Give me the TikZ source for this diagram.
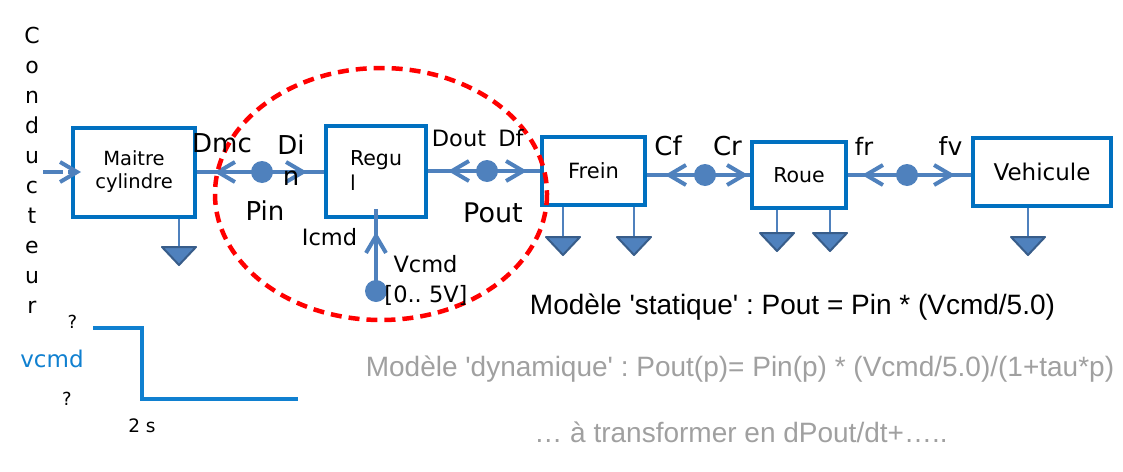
\documentclass[tikz,border=0pt]{standalone}
\usepackage{fontspec}
\setmainfont{DejaVu Sans}
\newfontfamily\lib{Liberation Sans}
\usetikzlibrary{arrows.meta,decorations.markings,calc}
\definecolor{boxblue}{RGB}{0,112,192}
\definecolor{linkblue}{RGB}{79,129,189}
\definecolor{gnddark}{RGB}{56,93,138}
\definecolor{stepblue}{RGB}{16,128,208}
\definecolor{txtgray}{RGB}{160,160,160}
\newcommand\fsz[2]{\fontsize{#1}{#2}\selectfont}
\frenchspacing
\tikzset{
  chev/.tip={Straight Barb[length=17pt,width=20pt]},
  boxnode/.style={draw=boxblue, line width=4pt, fill=white, inner sep=0pt},
  link/.style={draw=linkblue, color=linkblue, line width=4pt},
  ends/.style n args={2}{postaction={decorate}, decoration={markings,
      mark=at position #1 with {\arrowreversed{chev}},
      mark=at position #2 with {\arrow{chev}}}},
  dotnode/.style={circle, fill=linkblue, inner sep=0pt, minimum size=22pt},
  lbl/.style={inner sep=0pt, anchor=base, font=\fsz{26}{31}},
  slbl/.style={inner sep=0pt, anchor=base, font=\fsz{22.5}{27}},
  pics/gnd/.style={code={
    \draw[linkblue, line width=2pt] (0,0) -- (0,#1);
    \draw[fill=linkblue, draw=gnddark, line width=2pt, line join=round]
      (-17,#1) -- (17,#1) -- (0,{#1+18}) -- cycle;}},
}
\begin{document}
\begin{tikzpicture}[x=1pt,y=-1pt]
\useasboundingbox (0,0) rectangle (1123,471);
% boxes
\node[boxnode, minimum width=122, minimum height=89, align=center, font=\fsz{19.5}{23}] (maitre) at (134,172) {Maitre\\cylindre};
\node[boxnode, minimum width=100, minimum height=91, align=left, font=\fsz{20.5}{25}] (regul) at (376,171) {Regu\\l};
\node[boxnode, minimum width=103, minimum height=68, font=\fsz{21}{25}] (frein) at (593.5,171) {Frein};
\node[boxnode, minimum width=94, minimum height=66, font=\fsz{20.5}{25}] (roue) at (799,175) {Roue};
\node[boxnode, minimum width=138, minimum height=68, font=\fsz{23}{27}] (vehicule) at (1042,172) {Vehicule};
% grounds
\pic at (179,219) {gnd=28};
\pic at (563,207) {gnd=30};
\pic at (634,207) {gnd=30};
\pic at (777,210) {gnd=23};
\pic at (830,210) {gnd=23};
\pic at (1028,208) {gnd=29};
% input
\coordinate (cin) at (43,172);
\draw[link, dash pattern=on 20pt off 5pt, -{chev}] (cin) -- ($(maitre.west)+(10,0)$);
% connectors
\draw[link, ends={17pt}{-17pt}] (maitre.east) -- (maitre.east -| regul.west);
\draw[link, ends={20pt}{-13pt}] (regul.east) -- (regul.east -| frein.west);
\draw[link, ends={18pt}{-2pt}] (roue.west -| frein.east) -- (roue.west);
\draw[link, ends={14pt}{-16pt}] (roue.east) -- (roue.east -| vehicule.west);
\node[dotnode] (p1) at (262,172) {};
\node[dotnode] (p2) at (487,171) {};
\node[dotnode] (p3) at (705,175) {};
\node[dotnode] (p4) at (907,175) {};
\node[dotnode] (vdot) at (376,291) {};
\draw[link, postaction={decorate}, decoration={markings, mark=at position 59pt with {\arrow{chev}}}]
  (vdot.center) -- ($(regul.south)+(0,-10)$);
% red ellipse
\draw[red, line width=4.5pt, dash pattern=on 11pt off 7pt] (381,194) ellipse [x radius=166, y radius=126];
% labels
\node[lbl] (lDmc) at (222,152) {Dmc};
\node[lbl, align=center] (lDin) at (291,185) {Di\\n};
\node[lbl] (lPin) at (265,220) {Pin};
\node[slbl] (lDout) at (459,146) {Dout};
\node[slbl] (lDf) at (511,146) {Df};
\node[lbl, font=\fsz{27}{31}] (lPout) at (493,222) {Pout};
\node[slbl] (lIcmd) at (329.5,245) {Icmd};
\node[slbl] (lVcmd) at (425.5,272) {Vcmd};
\node[slbl] (lrange) at (426,302) {[0.. 5V]};
\node[lbl] (lCf) at (668,155) {Cf};
\node[lbl] (lCr) at (727.5,155) {Cr};
\node[lbl, font=\fsz{24}{30}] (lfr) at (864,155) {fr};
\node[lbl, font=\fsz{25}{30}] (lfv) at (950.5,155) {fv};
% Conducteur
\foreach \c [count=\i from 0] in {C,o,n,d,u,c,t,e,u,r}
  \node[inner sep=0pt, anchor=base, font=\fsz{22}{26}] (cond\i) at (32,{43+30*\i}) {\c};
% step
\draw[stepblue, line width=4pt] (93,328) -- (142,328) -- (142,399) -- (298,399);
\node[inner sep=0pt, anchor=base, font=\fsz{18}{22}] (q1) at (72.5,328) {?};
\node[inner sep=0pt, anchor=base, font=\fsz{18}{22}] (q2) at (67,405) {?};
\node[inner sep=0pt, anchor=base, font=\fsz{23}{27}, text=stepblue] (lvcmd) at (52,367) {vcmd};
\node[inner sep=0pt, anchor=base, font=\fsz{18.5}{22}] (l2s) at (142,432) {2 s};
% model texts
\node[inner sep=0pt, anchor=base, font=\lib\fsz{28}{32}] (stat) at (792.5,314) {Modèle \textquotesingle statique\textquotesingle{} : Pout = Pin * (Vcmd/5.0)};
\node[inner sep=0pt, anchor=base, font=\lib\fsz{28}{32}, text=txtgray] (dyn) at (740,376) {Modèle \textquotesingle dynamique\textquotesingle{} : Pout(p)= Pin(p) * (Vcmd/5.0)/(1+tau*p)};
\node[inner sep=0pt, anchor=base, font=\lib\fsz{28}{32}, text=txtgray] (trans) at (741,442) {… à transformer en dPout/dt+…..};
\end{tikzpicture}
\end{document}
